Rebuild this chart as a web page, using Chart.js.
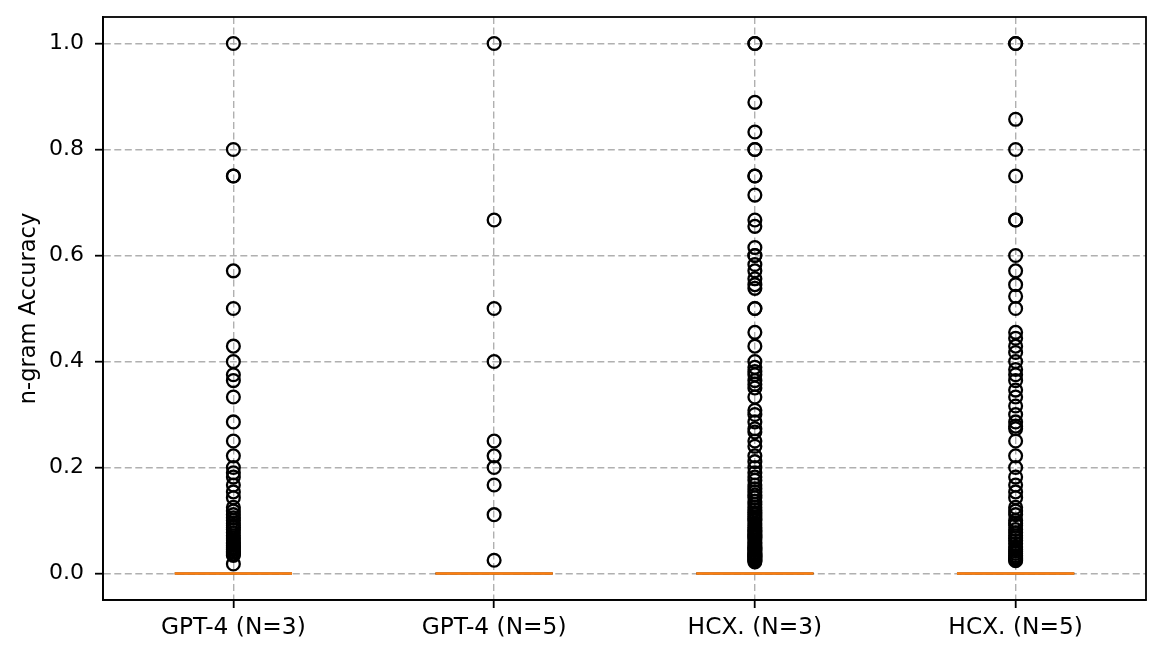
<!DOCTYPE html>
<html>
<head>
<meta charset="utf-8">
<script src="https://cdn.jsdelivr.net/npm/chart.js@4/dist/chart.umd.min.js"></script>
<style>
  html, body { margin: 0; padding: 0; background: #ffffff; }
  #wrap { width: 1164px; height: 657px; position: relative; }
</style>
</head>
<body>
<div id="wrap"><canvas id="c" width="1164" height="657"></canvas></div>
<script>
// ---- data ----
const categories = ["GPT-4 (N=3)", "GPT-4 (N=5)", "HCX. (N=3)", "HCX. (N=5)"];
const medians = [0, 0, 0, 0];
const q1 = [0, 0, 0, 0];
const q3 = [0, 0, 0, 0];
const whiskerLow = [0, 0, 0, 0];
const whiskerHigh = [0, 0, 0, 0];

const outliersGpt4N3 = [1.0, 0.8, 0.75, 0.75, 0.571, 0.5, 0.429, 0.4, 0.375, 0.364, 0.333, 0.286,
  0.25, 0.222, 0.2, 0.19, 0.182, 0.167, 0.154, 0.143, 0.125, 0.118, 0.111, 0.105, 0.1, 0.095,
  0.091, 0.087, 0.083, 0.077, 0.071, 0.067, 0.063, 0.059, 0.056, 0.053, 0.05, 0.048, 0.045,
  0.042, 0.04, 0.037, 0.034, 0.018];
const outliersGpt4N5 = [1.0, 0.667, 0.5, 0.4, 0.25, 0.222, 0.2, 0.167, 0.111, 0.025];
const outliersHcxN3 = [1.0, 1.0, 0.889, 0.833, 0.8, 0.8, 0.75, 0.75, 0.714, 0.667, 0.655, 0.615,
  0.6, 0.6, 0.583, 0.571, 0.556, 0.545, 0.538, 0.5, 0.5, 0.455, 0.429, 0.4, 0.389, 0.381, 0.375,
  0.364, 0.357, 0.35, 0.333, 0.308, 0.3, 0.286, 0.273, 0.267, 0.25, 0.24, 0.222, 0.211, 0.2,
  0.19, 0.182, 0.176, 0.167, 0.16, 0.154, 0.148, 0.143, 0.136, 0.13, 0.125, 0.12, 0.115, 0.111,
  0.107, 0.103, 0.1, 0.095, 0.091, 0.087, 0.083, 0.08, 0.077, 0.074, 0.071, 0.069, 0.067, 0.063,
  0.059, 0.056, 0.053, 0.05, 0.048, 0.045, 0.043, 0.04, 0.038, 0.036, 0.034, 0.032, 0.03, 0.028,
  0.026, 0.024, 0.022];
const outliersHcxN5 = [1.0, 1.0, 0.857, 0.8, 0.75, 0.667, 0.667, 0.6, 0.571, 0.545, 0.523, 0.5,
  0.455, 0.444, 0.429, 0.417, 0.4, 0.385, 0.375, 0.364, 0.346, 0.333, 0.316, 0.3, 0.286, 0.278,
  0.273, 0.25, 0.222, 0.2, 0.182, 0.167, 0.154, 0.143, 0.125, 0.118, 0.111, 0.1, 0.095, 0.091,
  0.083, 0.077, 0.071, 0.067, 0.062, 0.056, 0.05, 0.045, 0.042, 0.038, 0.034, 0.031, 0.029,
  0.026, 0.024];
const outliers = [outliersGpt4N3, outliersGpt4N5, outliersHcxN3, outliersHcxN5];
const yTicks = [0.0, 0.2, 0.4, 0.6, 0.8, 1.0];
const yLabel = "n-gram Accuracy";

// ---- build datasets ----
const BOX_HALF = 0.225;
const FONT = "'DejaVu Sans', sans-serif";
const datasets = [];

outliers.forEach((vals, i) => {
  datasets.push({
    type: 'scatter',
    data: vals.map(v => ({x: i + 1, y: v})),
    pointStyle: 'circle',
    pointRadius: 6.4,
    pointBorderWidth: 2.3,
    pointBackgroundColor: 'rgba(0,0,0,0)',
    pointBorderColor: '#000000',
    order: 0
  });
});
categories.forEach((c, i) => {
  datasets.push({
    type: 'line',
    data: [{x: i + 1 - BOX_HALF, y: medians[i]}, {x: i + 1 + BOX_HALF, y: medians[i]}],
    borderColor: '#ff7f0e',
    borderWidth: 2.3,
    pointRadius: 0,
    fill: false,
    order: 1
  });
});
categories.forEach((c, i) => {
  const x = i + 1;
  datasets.push({
    type: 'line',
    data: [{x: x - BOX_HALF, y: q1[i]}, {x: x + BOX_HALF, y: q1[i]}, {x: x + BOX_HALF, y: q3[i]},
           {x: x - BOX_HALF, y: q3[i]}, {x: x - BOX_HALF, y: q1[i]}],
    borderColor: '#000000', borderWidth: 2.2, pointRadius: 0, fill: false, order: 2
  });
  datasets.push({
    type: 'line',
    data: [{x: x, y: q1[i]}, {x: x, y: whiskerLow[i]}],
    borderColor: '#000000', borderWidth: 2.2, pointRadius: 0, fill: false, order: 2
  });
  datasets.push({
    type: 'line',
    data: [{x: x, y: q3[i]}, {x: x, y: whiskerHigh[i]}],
    borderColor: '#000000', borderWidth: 2.2, pointRadius: 0, fill: false, order: 2
  });
});

const frame = {
  id: 'frame',
  afterDraw(chart) {
    const {ctx, chartArea: a} = chart;
    ctx.save();
    ctx.strokeStyle = '#000';
    ctx.lineWidth = 1.8;
    ctx.strokeRect(a.left, a.top, a.right - a.left, a.bottom - a.top);
    ctx.restore();
  }
};

new Chart(document.getElementById('c'), {
  type: 'scatter',
  data: { datasets },
  plugins: [frame],
  options: {
    responsive: false,
    animation: false,
    events: [],
    layout: { padding: { top: 17, right: 18, left: 0, bottom: 0 } },
    plugins: { legend: { display: false }, tooltip: { enabled: false } },
    scales: {
      x: {
        type: 'linear',
        min: 0.5, max: 4.5,
        afterBuildTicks: s => { s.ticks = categories.map((c, i) => ({value: i + 1})); },
        afterFit: s => { s.height = 57; s.paddingLeft = 0; s.paddingRight = 0; },
        ticks: {
          autoSkip: false, maxRotation: 0,
          callback: (v) => categories[Math.round(v) - 1] || '',
          color: '#000', font: { family: FONT, size: 23.3 }, padding: 6
        },
        grid: { color: '#b0b0b0', lineWidth: 1.4, tickColor: '#000', tickLength: 8, tickWidth: 1.8 },
        border: { display: true, color: '#000', width: 1.8, dash: [7, 3.5] }
      },
      y: {
        type: 'linear',
        min: -0.05, max: 1.05,
        afterBuildTicks: s => { s.ticks = yTicks.map(v => ({value: v})); },
        afterFit: s => { s.width = 103; s.paddingTop = 0; s.paddingBottom = 0; },
        ticks: {
          callback: v => Number(v).toFixed(1),
          color: '#000', font: { family: FONT, size: 22 }, padding: 11
        },
        title: { display: true, text: yLabel, color: '#000', font: { family: FONT, size: 22.5 }, padding: { top: 16, bottom: 0 } },
        grid: { color: '#b0b0b0', lineWidth: 1.4, tickColor: '#000', tickLength: 8, tickWidth: 1.8 },
        border: { display: true, color: '#000', width: 1.8, dash: [7, 3.5] }
      }
    }
  }
});
</script>
</body>
</html>
